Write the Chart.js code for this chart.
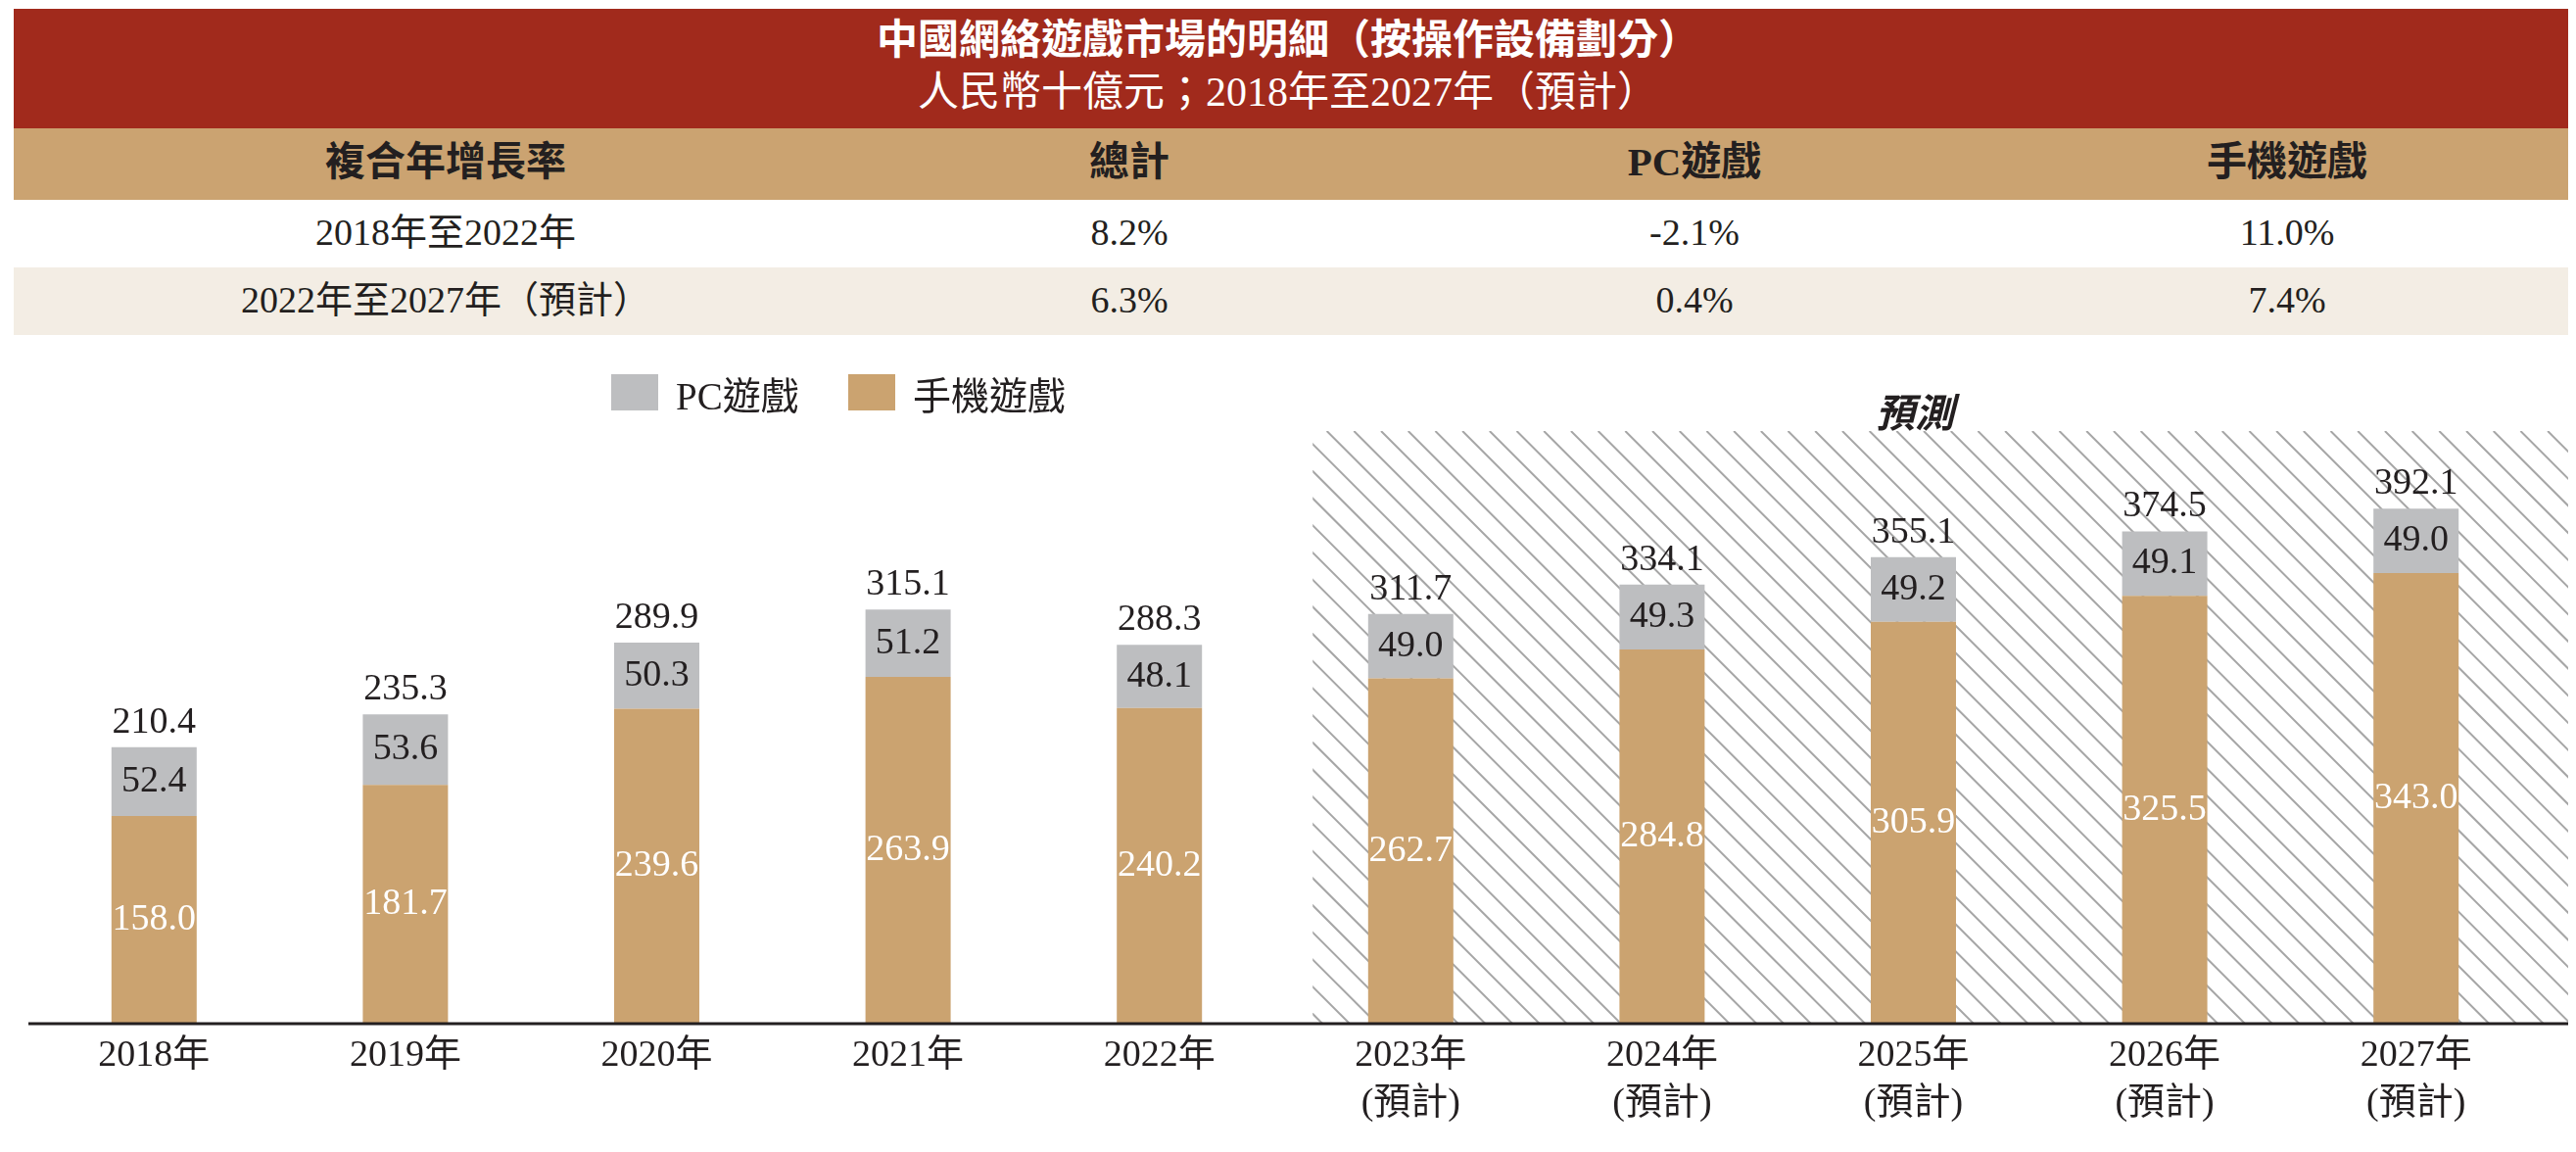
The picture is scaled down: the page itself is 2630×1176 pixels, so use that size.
<!DOCTYPE html>
<html>
<head>
<meta charset="utf-8">
<script src="https://cdn.jsdelivr.net/npm/chart.js@4"></script>
<style>
  html, body { margin: 0; padding: 0; background: #fff; }
  body { width: 2630px; height: 1176px; position: relative; overflow: hidden;
         font-family: "Liberation Serif", "Noto Sans CJK TC", serif; color: #231f20; }
  .band { position: absolute; left: 14px; width: 2608px; }
  .cell { position: absolute; width: 700px; text-align: center; white-space: nowrap; }
  #chart { position: absolute; left: 0; top: 0; }
  .legend { position: absolute; top: 382px; height: 37px; display: flex; align-items: center; font-size: 39px; }
  .swatch { display: inline-block; width: 48px; height: 37px; margin-right: 18px; }
</style>
</head>
<body>
<div class="band" style="top:9px;height:122px;background:#a12a1c;"></div>
<div class="band" style="top:131px;height:73px;background:#cba371;"></div>
<div class="band" style="top:273px;height:69px;background:#f3ede4;"></div>
<div id="table"></div>
<canvas id="chart" width="2630" height="1176"></canvas>
<div id="legend"></div>
<div style="position:absolute;left:1900px;width:110px;top:390px;text-align:center;font-size:40px;font-weight:bold;font-style:italic;">預測</div>

<script>
// 圖表數據
const years = ['2018年', '2019年', '2020年', '2021年', '2022年', '2023年', '2024年', '2025年', '2026年', '2027年'];
const forecastFrom = 5; // 2023年起為預計
const pcGames = [52.4, 53.6, 50.3, 51.2, 48.1, 49.0, 49.3, 49.2, 49.1, 49.0];
const mobileGames = [158.0, 181.7, 239.6, 263.9, 240.2, 262.7, 284.8, 305.9, 325.5, 343.0];
const totals = [210.4, 235.3, 289.9, 315.1, 288.3, 311.7, 334.1, 355.1, 374.5, 392.1];

// 複合年增長率表
const titleLines = ['中國網絡遊戲市場的明細（按操作設備劃分）', '人民幣十億元；2018年至2027年（預計）'];
const cagrHeaders = ['複合年增長率', '總計', 'PC遊戲', '手機遊戲'];
const cagrPeriods = ['2018年至2022年', '2022年至2027年（預計）'];
const cagrTotal = ['8.2%', '6.3%'];
const cagrPc = ['-2.1%', '0.4%'];
const cagrMobile = ['11.0%', '7.4%'];

const pcColor = '#bdbec0';
const mobileColor = '#cba370';

// 表格文字
const colCenters = [455, 1153, 1730, 2335];
const tableEl = document.getElementById('table');
function addCell(text, cx, cy, size, extra) {
  const d = document.createElement('div');
  d.className = 'cell';
  d.style.left = (cx - 350) + 'px';
  d.style.top = (cy - size * 0.6) + 'px';
  d.style.fontSize = size + 'px';
  d.style.lineHeight = (size * 1.2) + 'px';
  if (extra) Object.assign(d.style, extra);
  d.textContent = text;
  tableEl.appendChild(d);
}
addCell(titleLines[0], 1315, 41, 42, { color: '#fff', fontWeight: 'bold', width: '1200px', left: '715px' });
addCell(titleLines[1], 1315, 94, 42, { color: '#fff', width: '1200px', left: '715px' });
cagrHeaders.forEach((h, i) => addCell(h, colCenters[i], 166, 41, { fontWeight: 'bold' }));
const rowY = [238, 307];
cagrPeriods.forEach((p, r) => {
  addCell(p, colCenters[0], rowY[r], 38);
  addCell(cagrTotal[r], colCenters[1], rowY[r], 38);
  addCell(cagrPc[r], colCenters[2], rowY[r], 38);
  addCell(cagrMobile[r], colCenters[3], rowY[r], 38);
});

// 圖例
const legendEl = document.getElementById('legend');
[['PC遊戲', pcColor, 624], ['手機遊戲', mobileColor, 866]].forEach(([name, color, left]) => {
  const d = document.createElement('div');
  d.className = 'legend';
  d.style.left = left + 'px';
  d.innerHTML = '<span class="swatch" style="background:' + color + '"></span>' + name;
  legendEl.appendChild(d);
});

const xLabels = years.map((y, i) => i >= forecastFrom ? [y, '(預計)'] : y);

// 預測區斜線、底線
const decoPlugin = {
  id: 'deco',
  beforeDatasetsDraw(chart) {
    const { ctx, chartArea } = chart;
    const xs = chart.scales.x;
    const step = xs.getPixelForValue(forecastFrom) - xs.getPixelForValue(forecastFrom - 1);
    const left = xs.getPixelForValue(forecastFrom) - step * 0.39;
    const right = chart.width - 8;
    const top = chartArea.top, bottom = chartArea.bottom;
    const h = bottom - top;
    ctx.save();
    ctx.beginPath();
    ctx.rect(left, top, right - left, h);
    ctx.clip();
    ctx.strokeStyle = '#a6a6a6';
    ctx.lineWidth = 2;
    const dx = h; // 45度
    for (let x = left - dx + 10; x < right + 30; x += 27.7) {
      ctx.beginPath();
      ctx.moveTo(x, top);
      ctx.lineTo(x + dx, bottom);
      ctx.stroke();
    }
    ctx.restore();
  },
  afterDatasetsDraw(chart) {
    const { ctx, chartArea } = chart;
    ctx.save();
    ctx.strokeStyle = '#231f20';
    ctx.lineWidth = 3;
    ctx.beginPath();
    ctx.moveTo(chartArea.left, chartArea.bottom);
    ctx.lineTo(chart.width - 8, chartArea.bottom);
    ctx.stroke();

    const mob = chart.getDatasetMeta(0).data;
    const pc = chart.getDatasetMeta(1).data;
    ctx.font = '38px "Liberation Serif", "Noto Sans CJK TC", serif';
    ctx.textAlign = 'center';
    ctx.textBaseline = 'middle';
    mob.forEach((bar, i) => {
      ctx.fillStyle = '#ffffff';
      ctx.fillText(mobileGames[i].toFixed(1), bar.x, (bar.y + bar.base) / 2);
      const p = pc[i];
      ctx.fillStyle = '#231f20';
      ctx.fillText(pcGames[i].toFixed(1), p.x, (p.y + p.base) / 2);
      ctx.textBaseline = 'alphabetic';
      ctx.fillText(totals[i].toFixed(1), p.x, p.y - 15);
      ctx.textBaseline = 'middle';
    });
    ctx.restore();
  }
};

function draw() {
  Chart.defaults.font.family = '"Liberation Serif", "Noto Sans CJK TC", serif';
  Chart.defaults.color = '#231f20';
  new Chart(document.getElementById('chart'), {
    type: 'bar',
    data: {
      labels: xLabels,
      datasets: [
        { label: '手機遊戲', data: mobileGames, backgroundColor: mobileColor, stack: 's', barPercentage: 0.339, categoryPercentage: 1 },
        { label: 'PC遊戲', data: pcGames, backgroundColor: pcColor, stack: 's', barPercentage: 0.339, categoryPercentage: 1 }
      ]
    },
    options: {
      responsive: false,
      animation: false,
      devicePixelRatio: 1,
      layout: { padding: { top: 440, left: 29, right: 35, bottom: 0 } },
      plugins: { legend: { display: false }, tooltip: { enabled: false } },
      scales: {
        x: {
          stacked: true,
          grid: { display: false, drawTicks: false },
          border: { display: false },
          ticks: { font: { size: 38, lineHeight: 1.3 }, padding: 8, color: '#231f20', maxRotation: 0, autoSkip: false },
          afterFit(scale) { scale.height = 131; }
        },
        y: {
          stacked: true,
          display: false,
          min: 0,
          max: 451
        }
      }
    },
    plugins: [decoPlugin]
  });
}

Promise.all([
  document.fonts.load('38px "Liberation Serif"'),
  document.fonts.load('38px "Noto Sans CJK TC"', '預計年')
]).then(draw, draw);
</script>
</body>
</html>
